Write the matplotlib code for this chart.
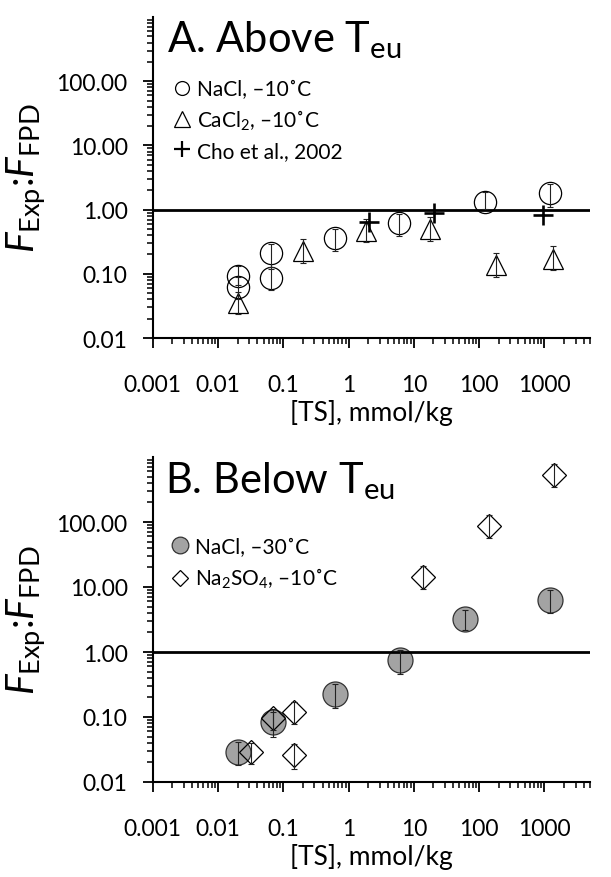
import numpy as np
import matplotlib
matplotlib.use('Agg')
import matplotlib.pyplot as plt
from matplotlib.lines import Line2D
from matplotlib.ticker import LogLocator, NullFormatter, FixedLocator, FixedFormatter

plt.rcParams['font.family'] = ['Lato', 'DejaVu Sans']
plt.rcParams['mathtext.fontset'] = 'custom'
plt.rcParams['mathtext.rm'] = 'Lato'
plt.rcParams['mathtext.it'] = 'Lato:italic'

# ---- Panel A: above eutectic ----
nacl10_x = [0.02, 0.02, 0.066, 0.066, 0.61, 6.0, 122, 1200]
nacl10_y = [0.094, 0.062, 0.212, 0.086, 0.36, 0.62, 1.33, 1.82]
nacl10_hi = [0.132, 0.088, 0.29, 0.128, 0.50, 0.86, 1.86, 2.5]
nacl10_lo = [0.066, 0.040, 0.12, 0.055, 0.23, 0.385, 1.02, 1.09]

cacl2_x = [0.02, 0.2, 1.84, 18, 184, 1370]
cacl2_y = [0.035, 0.23, 0.47, 0.50, 0.135, 0.17]
cacl2_hi = [0.052, 0.35, 0.72, 0.76, 0.21, 0.275]
cacl2_lo = [0.024, 0.147, 0.31, 0.32, 0.089, 0.113]

cho_x = [2.03, 20.6, 946]
cho_y = [0.65, 0.88, 0.81]

# ---- Panel B: below eutectic ----
nacl30_x = [0.0206, 0.069, 0.62, 6.17, 60, 1225]
nacl30_y = [0.029, 0.083, 0.226, 0.76, 3.22, 6.38]
nacl30_hi = [0.041, 0.118, 0.32, 1.08, 4.47, 8.98]
nacl30_lo = [0.018, 0.049, 0.136, 0.46, 2.2, 3.98]

na2so4_x = [0.032, 0.069, 0.144, 0.144, 13.6, 140, 1425]
na2so4_y = [0.029, 0.095, 0.118, 0.026, 14.1, 86, 528]
na2so4_hi = [0.040, 0.133, 0.168, 0.038, 20.8, 128, 780]
na2so4_lo = [0.019, 0.062, 0.078, 0.016, 9.3, 56, 342]

ytick_vals = [0.01, 0.1, 1, 10, 100]
ytick_labels = ['0.01', '0.10', '1.00', '10.00', '100.00']
xtick_vals = [0.001, 0.01, 0.1, 1, 10, 100, 1000]
xtick_labels = ['0.001', '0.01', '0.1', '1', '10', '100', '1000']

fig = plt.figure(figsize=(6.11, 8.78), dpi=100)
W, H = 611, 878
axA = fig.add_axes([152.7 / W, (H - 339) / H, 437.3 / W, 321 / H])
axB = fig.add_axes([152.7 / W, (H - 783) / H, 437.3 / W, 325 / H])


def errbars(ax, x, y, lo, hi):
    y = np.array(y)
    yerr = [y - np.array(lo), np.array(hi) - y]
    ax.errorbar(x, y, yerr=yerr, fmt='none', ecolor='#222222', elinewidth=0.8,
                capsize=2.2, capthick=0.8, zorder=4)


def style(ax):
    ax.set_xscale('log')
    ax.set_yscale('log')
    ax.set_xlim(0.001, 5000)
    ax.set_ylim(0.01, 1000)
    ax.spines['top'].set_visible(False)
    ax.spines['right'].set_visible(False)
    for s in ['left', 'bottom']:
        ax.spines[s].set_linewidth(1.5)
    ax.yaxis.set_major_locator(FixedLocator(ytick_vals))
    ax.yaxis.set_major_formatter(FixedFormatter(ytick_labels))
    ax.xaxis.set_major_locator(FixedLocator(xtick_vals))
    ax.xaxis.set_major_formatter(FixedFormatter(xtick_labels))
    ax.xaxis.set_minor_locator(LogLocator(base=10, subs=np.arange(2, 10), numticks=100))
    ax.yaxis.set_minor_locator(LogLocator(base=10, subs=np.arange(2, 10), numticks=100))
    ax.xaxis.set_minor_formatter(NullFormatter())
    ax.yaxis.set_minor_formatter(NullFormatter())
    ax.tick_params(axis='both', which='major', direction='out', length=7, width=1.3,
                   labelsize=16.5)
    ax.tick_params(axis='both', which='minor', direction='out', length=4.5, width=1.1)
    ax.tick_params(axis='y', which='major', pad=11)
    ax.tick_params(axis='x', which='major', pad=19)
    ax.axhline(1, color='black', lw=2, zorder=3)
    ax.set_xlabel('[TS], mmol/kg', fontsize=19, labelpad=3)
    ax.set_ylabel(r'$\mathit{F}_{\mathrm{Exp}}$:$\mathit{F}_{\mathrm{FPD}}$', fontsize=28,
                  labelpad=6)


# panel A
style(axA)
errbars(axA, nacl10_x, nacl10_y, nacl10_lo, nacl10_hi)
errbars(axA, cacl2_x, cacl2_y, cacl2_lo, cacl2_hi)
axA.plot(nacl10_x, nacl10_y, 'o', ms=16, mfc='none', mec='black', mew=0.9, zorder=2)
axA.plot(cacl2_x, cacl2_y, '^', ms=15, mfc='none', mec='black', mew=0.9, zorder=2)
axA.plot(cho_x, cho_y, '+', ms=14, mec='black', mew=1.9, zorder=5)
axA.text(0.033, 0.894, r'A. Above T$_{\mathrm{eu}}$', transform=axA.transAxes,
         fontsize=30, va='baseline', ha='left')
hA = [Line2D([], [], ls='none', marker='o', ms=10, mfc='none', mec='black', mew=0.9),
      Line2D([], [], ls='none', marker='^', ms=11, mfc='none', mec='black', mew=0.9),
      Line2D([], [], ls='none', marker='+', ms=12, mec='black', mew=1.6)]
axA.legend(hA, ['NaCl, \u201310\u02daC', 'CaCl$_2$, \u201310\u02daC', 'Cho et al., 2002'],
           loc='upper left', bbox_to_anchor=(0.045, 0.807), frameon=False, fontsize=15,
           handlelength=0.9, handletextpad=0.3, labelspacing=0.42, borderpad=0,
           borderaxespad=0)

# panel B
style(axB)
errbars(axB, nacl30_x, nacl30_y, nacl30_lo, nacl30_hi)
errbars(axB, na2so4_x, na2so4_y, na2so4_lo, na2so4_hi)
axB.plot(nacl30_x, nacl30_y, 'o', ms=18, mfc='#a3a3a3', mec='#333333', mew=0.9, zorder=2)
axB.plot(na2so4_x, na2so4_y, 'D', ms=12, mfc='none', mec='black', mew=0.9, zorder=3)
axB.text(0.029, 0.891, r'B. Below T$_{\mathrm{eu}}$', transform=axB.transAxes,
         fontsize=30, va='baseline', ha='left')
hB = [Line2D([], [], ls='none', marker='o', ms=12, mfc='#a3a3a3', mec='#333333', mew=0.9),
      Line2D([], [], ls='none', marker='D', ms=8, mfc='none', mec='black', mew=0.9)]
axB.legend(hB, ['NaCl, \u201330\u02daC', 'Na$_2$SO$_4$, \u201310\u02daC'],
           loc='upper left', bbox_to_anchor=(0.04, 0.755), frameon=False, fontsize=15,
           handlelength=0.9, handletextpad=0.3, labelspacing=0.45, borderpad=0,
           borderaxespad=0)

fig.savefig('out.png', dpi=100)
